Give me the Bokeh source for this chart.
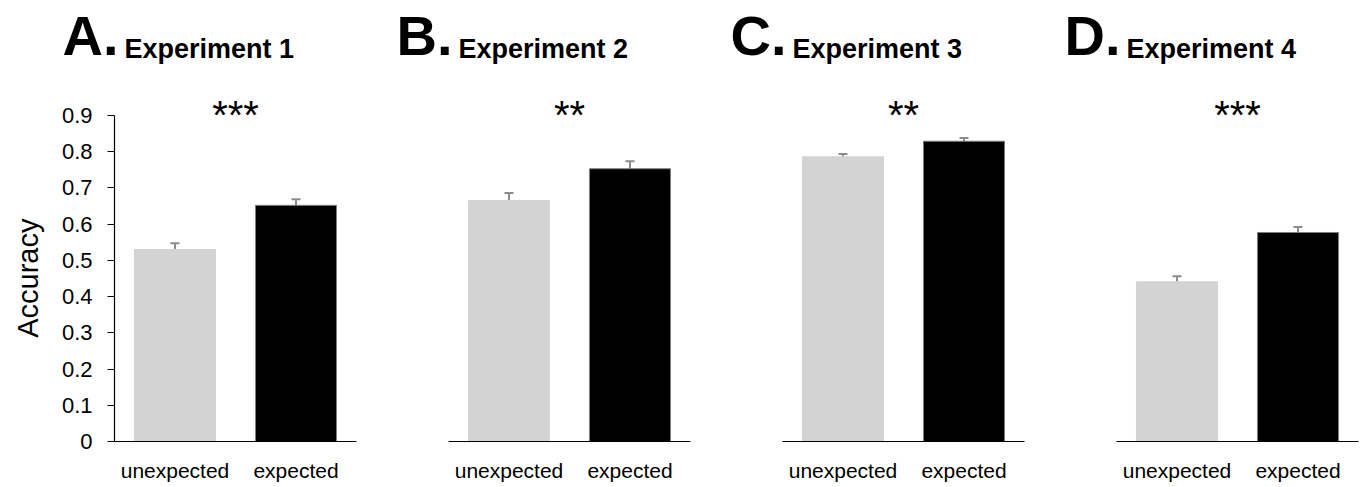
import math
from bokeh.plotting import figure
from bokeh.models import (ColumnDataSource, FactorRange, Range1d, FixedTicker,
                          Label, Whisker, TeeHead)
from bokeh.layouts import row, column
from bokeh.core.properties import value
from bokeh.embed import file_html
from bokeh.resources import INLINE

# ---- data ----
categories = ["unexpected", "expected"]
panel_letters = ["A.", "B.", "C.", "D."]
panel_titles = ["Experiment 1", "Experiment 2", "Experiment 3", "Experiment 4"]
significance = ["***", "**", "**", "***"]
acc_unexpected = [0.530, 0.665, 0.786, 0.441]
acc_expected = [0.652, 0.753, 0.829, 0.577]
err_unexpected = [0.017, 0.021, 0.008, 0.015]
err_expected = [0.017, 0.021, 0.009, 0.015]
y_ticks = [0, 0.1, 0.2, 0.3, 0.4, 0.5, 0.6, 0.7, 0.8, 0.9]
y_label = "Accuracy"

FONT = "'Liberation Sans', Arial, sans-serif"
BAR_COLORS = ["#d3d3d3", "#000000"]
BAR_LINES = ["#d3d3d3", "#7f7f7f"]
ERR_COLOR = "#8c8c8c"

# layout (pixels)
SIDE_W = 48
LEFTS = [66, 56, 56, 56]
FRAMES = [242, 242, 242, 242]
RIGHTS = [36, 36, 36, 2]
HEADER_H = 78
MAIN_H = 409
BOTTOM = 46
FRAME_H = MAIN_H - BOTTOM
PX_PER_UNIT = 326 / 0.9
Y_END = FRAME_H / PX_PER_UNIT

total_w = SIDE_W + sum(LEFTS) + sum(FRAMES) + sum(RIGHTS)

# ---- header with the panel titles ----
header = figure(width=total_w, height=HEADER_H, title=None,
                x_range=Range1d(0, total_w), y_range=Range1d(0, HEADER_H),
                x_axis_type=None, y_axis_type=None,
                output_backend="svg", toolbar_location=None,
                outline_line_color=None, min_border=0)
header.grid.visible = False
letter_x, title_x = [], []
offset = SIDE_W
for i in range(4):
    frame_left = offset + LEFTS[i]
    letter_x.append(frame_left - 52)
    title_x.append(frame_left + 10)
    offset += LEFTS[i] + FRAMES[i] + RIGHTS[i]
header.text(x=letter_x, y=[43] * 4, text=panel_letters,
            text_font=value(FONT), text_font_size="56px",
            text_font_style="bold", text_color="#000000",
            text_baseline="alphabetic", text_align="left")
header.text(x=title_x, y=[30] * 4, text=panel_titles,
            text_font=value(FONT), text_font_size="27px",
            text_font_style="bold", text_color="#000000",
            text_baseline="alphabetic", text_align="left")

# ---- side strip holding the y-axis title ----
side = figure(width=SIDE_W, height=MAIN_H, title=None,
              x_range=Range1d(0, SIDE_W), y_range=Range1d(0, MAIN_H),
              x_axis_type=None, y_axis_type=None,
              output_backend="svg", toolbar_location=None,
              outline_line_color=None, min_border=0)
side.grid.visible = False
axis_mid_px = BOTTOM + 0.45 * PX_PER_UNIT - 25
side.text(x=[27], y=[axis_mid_px], text=[y_label], angle=math.pi / 2,
          text_font=value(FONT), text_font_size="29px", text_color="#000000",
          text_baseline="middle", text_align="center")

figs = [side]
for i in range(4):
    p = figure(x_range=FactorRange(*categories, range_padding=0),
               y_range=Range1d(0, Y_END),
               width=LEFTS[i] + FRAMES[i] + RIGHTS[i], height=MAIN_H,
               min_border_left=LEFTS[i], min_border_right=RIGHTS[i],
               min_border_top=0, min_border_bottom=BOTTOM,
               output_backend="svg", toolbar_location=None,
               outline_line_color=None)
    p.grid.visible = False

    vals = [acc_unexpected[i], acc_expected[i]]
    errs = [err_unexpected[i], err_expected[i]]
    src = ColumnDataSource(dict(
        x=categories, top=vals, color=BAR_COLORS, lc=BAR_LINES,
        upper=[v + e for v, e in zip(vals, errs)],
        lower=[v - e for v, e in zip(vals, errs)]))
    p.vbar(x="x", top="top", width=0.67, source=src,
           fill_color="color", line_color="lc", line_width=1)
    w = Whisker(source=src, base="x", upper="upper", lower="lower",
                line_color=ERR_COLOR, line_width=2,
                upper_head=TeeHead(size=9, line_color=ERR_COLOR, line_width=2),
                lower_head=TeeHead(size=9, line_color=ERR_COLOR, line_width=2))
    p.add_layout(w)

    # x axis
    xa = p.xaxis[0]
    xa.axis_line_color = "#000000"
    xa.axis_line_width = 1.2
    xa.major_tick_line_color = None
    xa.major_tick_out = 0
    xa.major_tick_in = 0
    xa.minor_tick_line_color = None
    xa.major_label_text_font = FONT
    xa.major_label_text_font_size = "21px"
    xa.major_label_text_color = "#000000"
    xa.major_label_standoff = 17

    # y axis
    ya = p.yaxis[0]
    if i == 0:
        ya.ticker = FixedTicker(ticks=y_ticks)
        ya.bounds = (y_ticks[0], y_ticks[-1])
        ya.major_label_overrides = {0: "0"}
        ya.axis_line_color = "#000000"
        ya.axis_line_width = 1.2
        ya.major_tick_line_color = "#000000"
        ya.major_tick_in = 0
        ya.major_tick_out = 7
        ya.minor_tick_line_color = None
        ya.major_label_text_font = FONT
        ya.major_label_text_font_size = "22px"
        ya.major_label_text_color = "#000000"
        ya.major_label_standoff = 15
    else:
        ya.visible = False

    # significance stars
    p.add_layout(Label(x=1.0, y=0.902, text=significance[i],
                       text_font=FONT, text_font_size="40px",
                       text_color="#000000",
                       text_baseline="alphabetic", text_align="center"))
    figs.append(p)

layout = column(header, row(*figs, spacing=0), spacing=0)
open("out.html", "w").write(file_html(layout, INLINE))
